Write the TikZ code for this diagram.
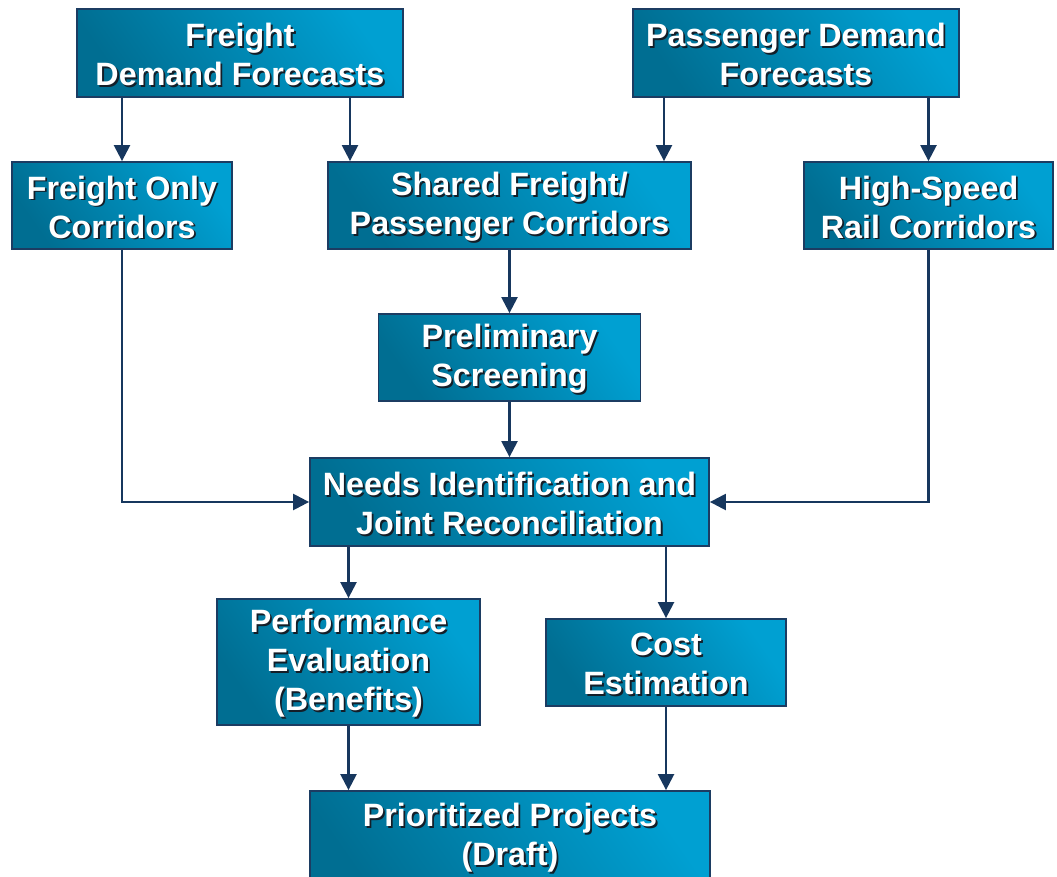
\documentclass[tikz,border=0pt]{standalone}
\usepackage{fontspec}
\setmainfont{Liberation Sans}
\usetikzlibrary{arrows.meta,calc}
\definecolor{boxlight}{RGB}{0,160,210}
\definecolor{boxdark}{RGB}{0,110,146}
\definecolor{boxedge}{RGB}{28,60,98}
\definecolor{arrowc}{RGB}{23,55,94}
\definecolor{txtshadow}{RGB}{20,30,40}
\tikzset{
  stepbox/.style={draw=boxedge, line width=1.8pt, shading=axis,
    top color=boxlight, bottom color=boxdark, shading angle=-55, inner sep=0pt},
  boxtext/.style={inner sep=0pt, align=center, text=white,
    font=\bfseries\fontsize{32.3}{39}\selectfont},
  boxshadow/.style={boxtext, text=txtshadow},
  flow/.style={draw=arrowc, line width=2.4pt, -{Triangle[length=16pt,width=16pt]}}
}
\newcommand{\flowbox}[6]{%
  \node[stepbox, minimum width=#4pt, minimum height=#5pt] (#1) at (#2,#3) {};
  \node[boxshadow] (#1-s) at ($(#1.center)+(1.8,3.3)$) {#6};
  \node[boxtext] (#1-t) at ($(#1.center)+(0,1.5)$) {#6};
}
\begin{document}
\begin{tikzpicture}[x=1pt,y=-1pt]
\useasboundingbox (0,0) rectangle (1057,877);
\clip (0,0) rectangle (1057,877);
\flowbox{fdf}{240}{53}{326}{88}{Freight\\Demand Forecasts}
\flowbox{pdf}{796}{53}{326}{88}{Passenger Demand\\Forecasts}
\flowbox{foc}{122}{205.5}{220}{87}{Freight Only\\Corridors}
\flowbox{sfp}{509.5}{205.5}{363}{87}{Shared Freight/\\Passenger Corridors}
\flowbox{hsr}{928.5}{205.5}{249}{87}{High-Speed\\Rail Corridors}
\flowbox{pre}{509.5}{357.5}{262}{87}{Preliminary\\Screening}
\flowbox{nid}{509.5}{502}{399}{88}{Needs Identification and\\Joint Reconciliation}
\flowbox{per}{348.5}{662}{263}{126}{Performance\\Evaluation\\(Benefits)}
\flowbox{cost}{666}{662.5}{240}{87}{Cost\\Estimation}
\node[stepbox, minimum width=400pt, minimum height=110pt] (pri) at (510,846) {};
\node[boxshadow] (pri-s) at (511.8,839.3) {Prioritized Projects\\(Draft)};
\node[boxtext] (pri-t) at (510,837.5) {Prioritized Projects\\(Draft)};

\coordinate (fdfr) at (350,97);
\coordinate (pdfl) at (664,97);
\draw[flow] (fdf.south -| foc.center) -- (foc.north);
\draw[flow] (fdfr) -- (fdfr |- sfp.north);
\draw[flow] (pdfl) -- (pdfl |- sfp.north);
\draw[flow] (pdf.south -| hsr.center) -- (hsr.north);
\draw[flow] (sfp.south) -- (pre.north);
\draw[flow] (pre.south) -- (nid.north);
\draw[flow] (foc.south) |- (nid.west);
\draw[flow] (hsr.south) |- (nid.east);
\draw[flow] (nid.south -| per.center) -- (per.north);
\draw[flow] (nid.south -| cost.center) -- (cost.north);
\draw[flow] (per.south) -- (per.south |- pri.north);
\draw[flow] (cost.south) -- (cost.south |- pri.north);
\end{tikzpicture}
\end{document}
